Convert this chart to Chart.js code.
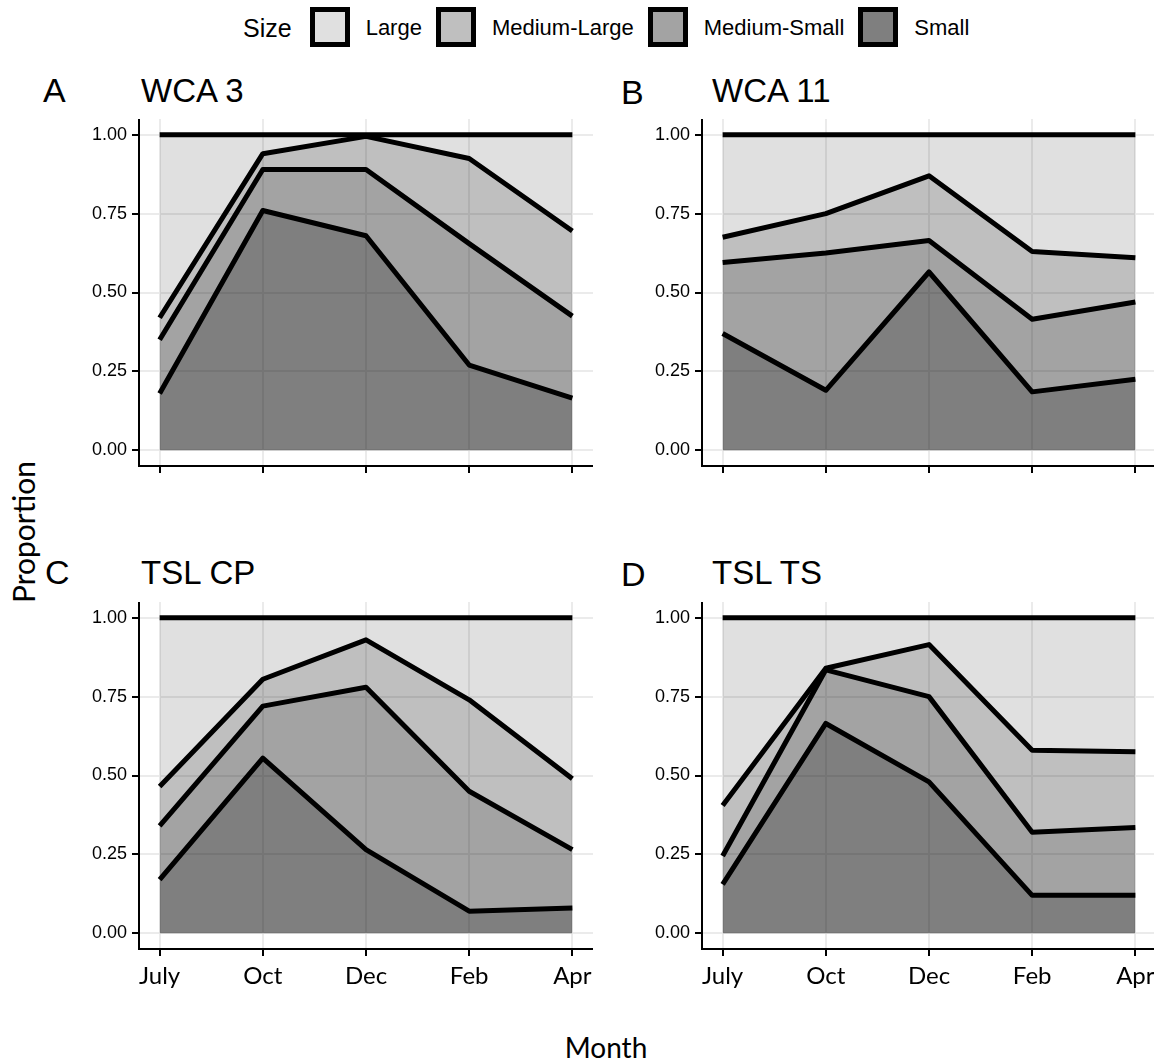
<!DOCTYPE html>
<html>
<head>
<meta charset="utf-8">
<script src="https://cdn.jsdelivr.net/npm/chart.js@4.4.1/dist/chart.umd.min.js"></script>
<style>
  html, body { margin: 0; padding: 0; background: #fff; }
  body { width: 1154px; height: 1063px; position: relative; overflow: hidden; }
  canvas { position: absolute; }
  .txt { position: absolute; white-space: nowrap; line-height: 1; color: #000; font-family: "Liberation Sans", Arial, sans-serif; }
  .tag { font-size: 34px; }
  .title { font-size: 33px; }
  .axt { font-family: Lato, "Open Sans", sans-serif; }
  #legend { position: absolute; left: 243px; top: 7px; height: 40px; display: flex; align-items: center;
            font-family: "Liberation Sans", Arial, sans-serif; color: #000; white-space: nowrap; }
  #legend .head { font-size: 25px; margin-right: 18px; margin-top: 2px; }
  #legend .key { width: 40px; height: 40px; box-sizing: border-box; border: 5px solid #000; margin-right: 16px; }
  #legend .lab { font-size: 22px; margin-right: 14px; margin-top: 2px; }
</style>
</head>
<body>
<div id="legend"></div>

<div class="txt tag" style="left:43px;top:73px">A</div>
<div class="txt title" style="left:141px;top:74px">WCA 3</div>
<div class="txt tag" style="left:621px;top:75px">B</div>
<div class="txt title" style="left:712px;top:74px">WCA 11</div>
<div class="txt tag" style="left:45px;top:555px">C</div>
<div class="txt title" style="left:141px;top:556px">TSL CP</div>
<div class="txt tag" style="left:621px;top:557px">D</div>
<div class="txt title" style="left:712px;top:556px">TSL TS</div>

<div class="txt axt" style="left:23px;top:532px;font-size:30px;transform:translate(-50%,-50%) rotate(-90deg)">Proportion</div>
<div class="txt axt" style="left:606px;top:1033px;font-size:28px;transform:translateX(-50%)">Month</div>

<canvas id="cA" width="554" height="407"></canvas>
<canvas id="cB" width="554" height="407"></canvas>
<canvas id="cC" width="554" height="407"></canvas>
<canvas id="cD" width="554" height="407"></canvas>

<script>
// months on the x axis
const months = ['July', 'Oct', 'Dec', 'Feb', 'Apr'];
const yTicks = [0, 0.25, 0.5, 0.75, 1];

// size classes, bottom of the stack first
const sizes = ['Small', 'Medium-Small', 'Medium-Large', 'Large'];
const legendOrder = ['Large', 'Medium-Large', 'Medium-Small', 'Small'];

// proportions per size class
const wca3Small    = [0.18, 0.76, 0.68, 0.27, 0.165];
const wca3MedSmall = [0.17, 0.13, 0.21, 0.385, 0.26];
const wca3MedLarge = [0.07, 0.05, 0.105, 0.27, 0.27];
const wca3Large    = [0.58, 0.06, 0.005, 0.075, 0.305];

const wca11Small    = [0.37, 0.19, 0.565, 0.185, 0.225];
const wca11MedSmall = [0.225, 0.435, 0.10, 0.23, 0.245];
const wca11MedLarge = [0.08, 0.125, 0.205, 0.215, 0.14];
const wca11Large    = [0.325, 0.25, 0.13, 0.37, 0.39];

const cpSmall    = [0.17, 0.555, 0.265, 0.07, 0.08];
const cpMedSmall = [0.17, 0.165, 0.515, 0.38, 0.185];
const cpMedLarge = [0.125, 0.085, 0.15, 0.29, 0.225];
const cpLarge    = [0.535, 0.195, 0.07, 0.26, 0.51];

const tsSmall    = [0.155, 0.665, 0.48, 0.12, 0.12];
const tsMedSmall = [0.09, 0.17, 0.27, 0.2, 0.215];
const tsMedLarge = [0.16, 0.005, 0.165, 0.26, 0.24];
const tsLarge    = [0.595, 0.16, 0.085, 0.42, 0.425];

// grey fills, semi transparent so the grid shows through
const fills = {
  'Small': 'rgba(0,0,0,0.50)',
  'Medium-Small': 'rgba(0,0,0,0.36)',
  'Medium-Large': 'rgba(0,0,0,0.25)',
  'Large': 'rgba(0,0,0,0.12)'
};

// legend
const legend = document.getElementById('legend');
legend.innerHTML = '<span class="head">Size</span>' + legendOrder.map(s =>
  `<span class="key" style="background:${fills[s]}"></span><span class="lab">${s}</span>`).join('');

const AXIS_W = 100, AXIS_H = 60;

function panel(id, left, top, series, showLabels) {
  const el = document.getElementById(id);
  el.style.left = (left - AXIS_W) + 'px';
  el.style.top = top + 'px';

  const datasets = series.map((vals, i) => ({
    label: sizes[i],
    data: vals.map((v, j) => ({ x: j, y: v })),
    backgroundColor: fills[sizes[i]],
    borderColor: '#000',
    borderWidth: 5,
    borderJoinStyle: 'round',
    pointRadius: 0,
    fill: i === 0 ? 'origin' : '-1',
    tension: 0
  }));

  return new Chart(el, {
    type: 'line',
    data: { datasets },
    options: {
      responsive: false,
      animation: false,
      events: [],
      layout: { padding: 0 },
      plugins: {
        legend: { display: false },
        tooltip: { enabled: false },
        filler: { drawTime: 'beforeDatasetsDraw' }
      },
      scales: {
        x: {
          type: 'linear',
          min: -0.2,
          max: 4.2,
          afterBuildTicks: s => { s.ticks = months.map((m, i) => ({ value: i })); },
          afterFit: s => { s.height = AXIS_H; s.paddingLeft = 0; s.paddingRight = 0; },
          grid: { color: '#ebebeb', lineWidth: 2, tickColor: '#000', tickLength: 7, tickWidth: 2 },
          border: { display: true, color: '#000', width: 2 },
          ticks: {
            autoSkip: false,
            maxRotation: 0,
            padding: 6,
            color: '#000',
            font: { family: 'Lato', size: 24 },
            callback: v => showLabels ? months[v] : ''
          }
        },
        y: {
          stacked: true,
          min: -0.05,
          max: 1.05,
          afterBuildTicks: s => { s.ticks = yTicks.map(v => ({ value: v })); },
          afterFit: s => { s.width = AXIS_W; s.paddingTop = 0; s.paddingBottom = 0; },
          grid: { color: '#ebebeb', lineWidth: 2, tickColor: '#000', tickLength: 7, tickWidth: 2 },
          border: { display: true, color: '#000', width: 2 },
          ticks: {
            padding: 5,
            color: '#000',
            font: { family: 'Liberation Sans', size: 18 },
            callback: v => v.toFixed(2)
          }
        }
      }
    }
  });
}

panel('cA', 139, 119, [wca3Small, wca3MedSmall, wca3MedLarge, wca3Large], false);
panel('cB', 702, 119, [wca11Small, wca11MedSmall, wca11MedLarge, wca11Large], false);
panel('cC', 139, 602, [cpSmall, cpMedSmall, cpMedLarge, cpLarge], true);
panel('cD', 702, 602, [tsSmall, tsMedSmall, tsMedLarge, tsLarge], true);
</script>
</body>
</html>
